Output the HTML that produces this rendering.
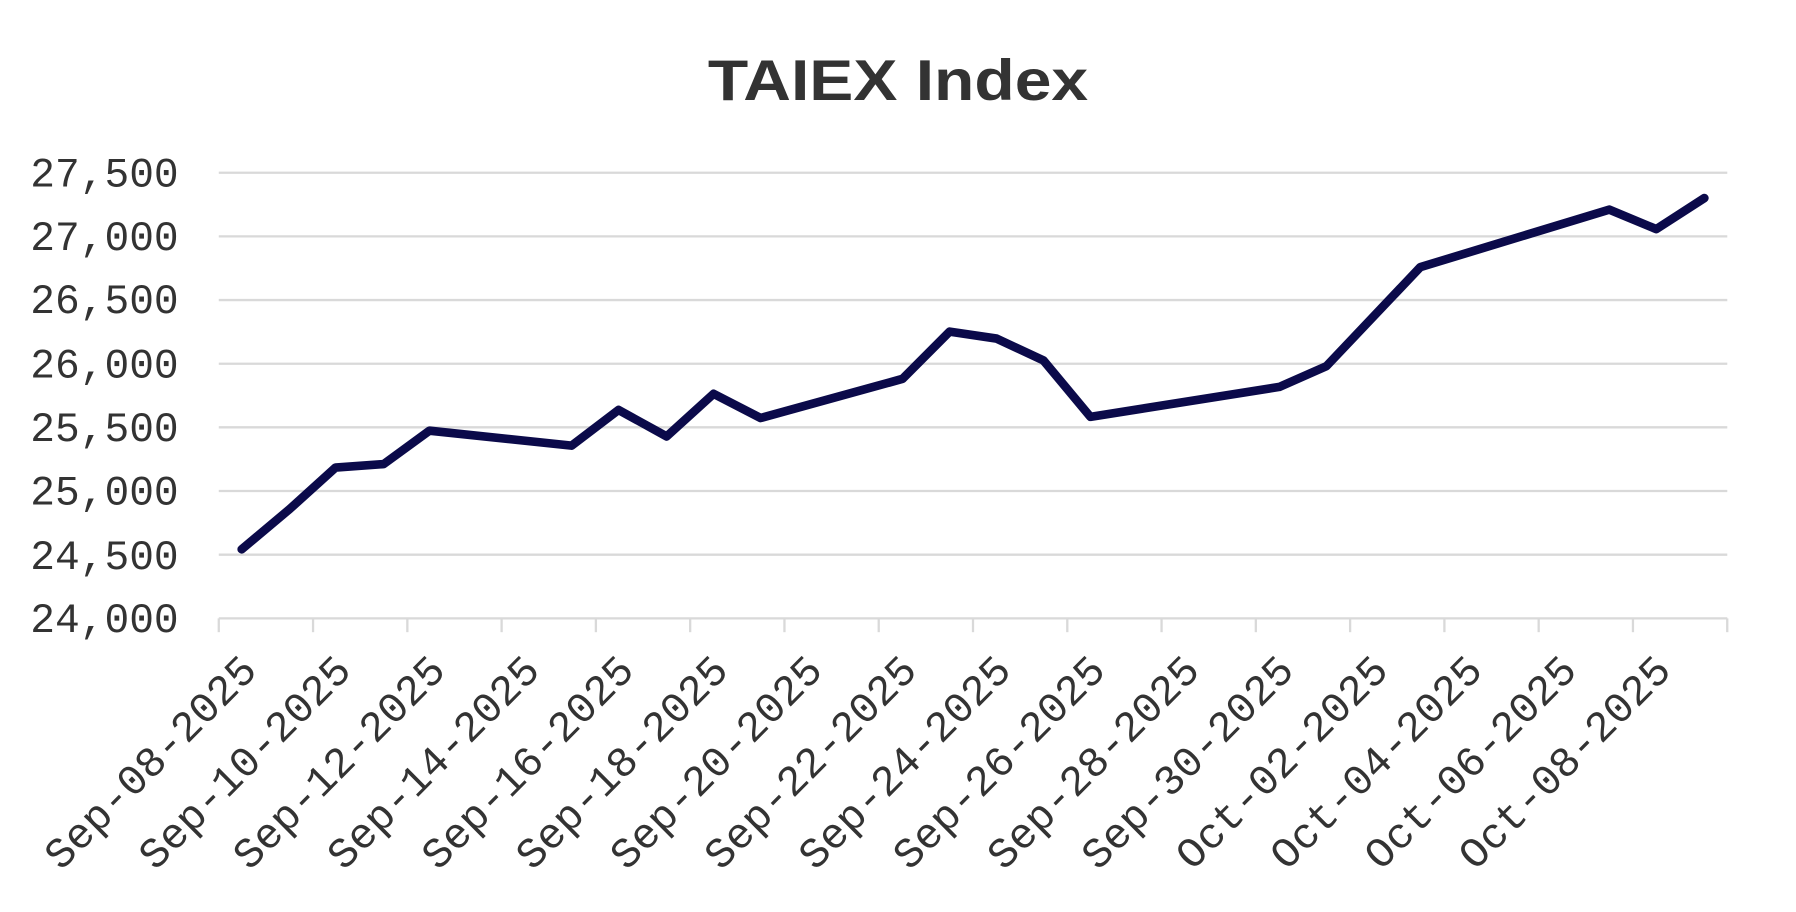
<!DOCTYPE html>
<html><head><meta charset="utf-8"><style>
html,body{margin:0;padding:0;background:#fff;}
svg{display:block}
</style></head><body>
<svg width="1796" height="912" viewBox="0 0 1568 792" preserveAspectRatio="none" xmlns="http://www.w3.org/2000/svg">
<rect width="1568" height="792" fill="#fff"/>
<text x="784" y="87" text-anchor="middle" font-family="Liberation Sans, sans-serif" font-weight="bold" font-size="50" fill="#333" textLength="332" lengthAdjust="spacingAndGlyphs">TAIEX Index</text>
<g stroke="#d9d9d9" stroke-width="2">
<line x1="191" x2="1508" y1="150" y2="150"/>
<line x1="191" x2="1508" y1="205.3" y2="205.3"/>
<line x1="191" x2="1508" y1="260.6" y2="260.6"/>
<line x1="191" x2="1508" y1="315.9" y2="315.9"/>
<line x1="191" x2="1508" y1="371.1" y2="371.1"/>
<line x1="191" x2="1508" y1="426.4" y2="426.4"/>
<line x1="191" x2="1508" y1="481.7" y2="481.7"/>
<line x1="191" x2="1508" y1="537" y2="537"/>
</g>
<g stroke="#d9d9d9" stroke-width="2" id="ticks"></g>
<g font-family="Liberation Mono, monospace" font-size="36" fill="#333" text-anchor="end">
<text x="156" y="162">27,500</text>
<text x="156" y="217">27,000</text>
<text x="156" y="272">26,500</text>
<text x="156" y="328">26,000</text>
<text x="156" y="383">25,500</text>
<text x="156" y="438">25,000</text>
<text x="156" y="494">24,500</text>
<text x="156" y="549">24,000</text>
</g>
<g id="xl" font-family="Liberation Mono, monospace" font-size="37" fill="#333" text-anchor="end"></g>
<polyline fill="none" stroke="#0b0a4a" stroke-width="7.5" stroke-linejoin="round" stroke-linecap="round" points="211,477 253,442 293,406 335,403 375,374 499,387 540,356 582,379 623,342 664,363 788,329 829,288 870,294 911,313 952,362 1117,336 1158,318 1240,232 1405,182 1446,199 1488,172"/>
<script>
var labels=["Sep-08-2025","Sep-10-2025","Sep-12-2025","Sep-14-2025","Sep-16-2025","Sep-18-2025","Sep-20-2025","Sep-22-2025","Sep-24-2025","Sep-26-2025","Sep-28-2025","Sep-30-2025","Oct-02-2025","Oct-04-2025","Oct-06-2025","Oct-08-2025"];
var ns="http://www.w3.org/2000/svg",t=document.getElementById("ticks"),xl=document.getElementById("xl");
for(var i=0;i<=16;i++){var x=191+i*82.31;var l=document.createElementNS(ns,"line");l.setAttribute("x1",x);l.setAttribute("x2",x);l.setAttribute("y1",537);l.setAttribute("y2",549);t.appendChild(l);
if(i<16){var tx=document.createElementNS(ns,"text");var ax=x+35,ay=584;tx.setAttribute("x",ax);tx.setAttribute("y",ay);tx.setAttribute("transform","rotate(-45 "+ax+" "+ay+")");tx.textContent=labels[i];xl.appendChild(tx);}}
</script>
</svg>
</body></html>
